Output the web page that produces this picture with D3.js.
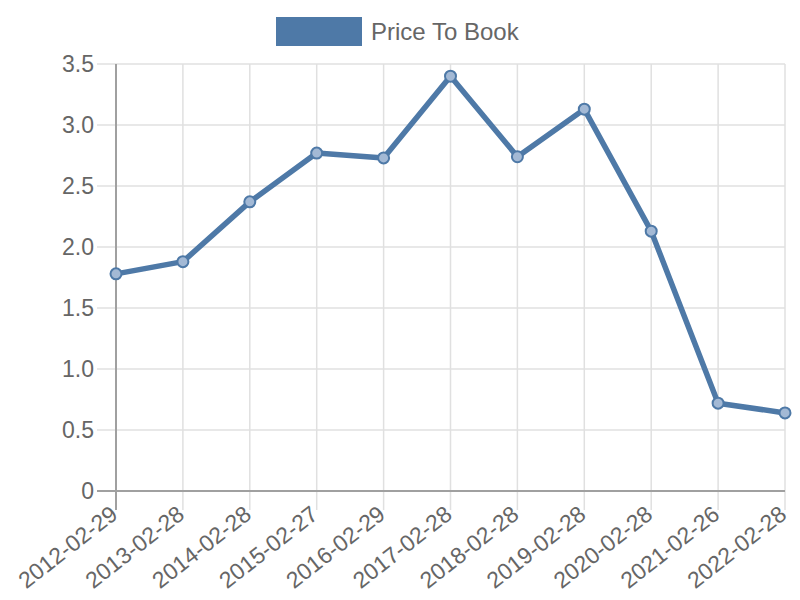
<!DOCTYPE html>
<html><head><meta charset="utf-8">
<script src="https://cdn.jsdelivr.net/npm/d3@7"></script>
<style>body{margin:0;background:#fff;}svg{display:block;font-family:"Liberation Sans",Arial,sans-serif;}</style>
</head><body><svg id="c" width="800" height="600"></svg>
<script>
const categories = ["2012-02-29","2013-02-28","2014-02-28","2015-02-27","2016-02-29","2017-02-28","2018-02-28","2019-02-28","2020-02-28","2021-02-26","2022-02-28"];
const values = [1.78, 1.88, 2.37, 2.77, 2.73, 3.40, 2.74, 3.13, 2.13, 0.72, 0.64];
const yTicks = [0, 0.5, 1.0, 1.5, 2.0, 2.5, 3.0, 3.5];
const seriesName = "Price To Book";

const color = "#4e79a7";
const svg = d3.select("#c");
const L = 116, R = 785, T = 64, B = 491, TL = 19;
const x = d3.scalePoint().domain(categories).range([L, R]);
const y = d3.scaleLinear().domain([0, 3.5]).range([B, T]);

// grid
const g = svg.append("g");
g.selectAll(".hg").data(yTicks).join("line")
  .attr("x1", L - TL).attr("x2", R).attr("y1", d => y(d)).attr("y2", d => y(d))
  .attr("stroke", "#e0e0e0").attr("stroke-width", 1.5);
g.selectAll(".vg").data(categories).join("line")
  .attr("x1", d => x(d)).attr("x2", d => x(d)).attr("y1", T).attr("y2", B + TL)
  .attr("stroke", "#e0e0e0").attr("stroke-width", 1.5);
// axes lines
g.append("line").attr("x1", L - TL).attr("x2", R).attr("y1", y(0)).attr("y2", y(0)).attr("stroke", "#a0a0a0").attr("stroke-width", 2);
g.append("line").attr("x1", L).attr("x2", L).attr("y1", T).attr("y2", B + TL).attr("stroke", "#a0a0a0").attr("stroke-width", 2);

// y labels
svg.append("g").selectAll("text").data(yTicks).join("text")
  .attr("x", L - TL - 3).attr("y", d => y(d)).attr("dy", "0.35em")
  .attr("text-anchor", "end").attr("font-size", 23).attr("fill", "#666")
  .text(d => d === 0 ? "0" : d.toFixed(1));

// x labels
svg.append("g").selectAll("text").data(categories).join("text")
  .attr("transform", d => `translate(${x(d)+3},${B + 26}) rotate(-38)`)
  .attr("text-anchor", "end").attr("font-size", 23).attr("fill", "#666")
  .text(d => d);

// line
const line = d3.line().x((d,i) => x(categories[i])).y(d => y(d));
svg.append("path").datum(values).attr("d", line)
  .attr("fill", "none").attr("stroke", color).attr("stroke-width", 5.5).attr("stroke-linejoin", "round");
svg.append("g").selectAll("circle").data(values).join("circle")
  .attr("cx", (d,i) => x(categories[i])).attr("cy", d => y(d)).attr("r", 5.5)
  .attr("fill", "#a3b9d5").attr("stroke", color).attr("stroke-width", 2);

// legend
svg.append("rect").attr("x", 276).attr("y", 17).attr("width", 86).attr("height", 29).attr("fill", color);
svg.append("text").attr("x", 371).attr("y", 32).attr("dy", "0.35em").attr("font-size", 24).attr("fill", "#666").text(seriesName);
</script></body></html>
